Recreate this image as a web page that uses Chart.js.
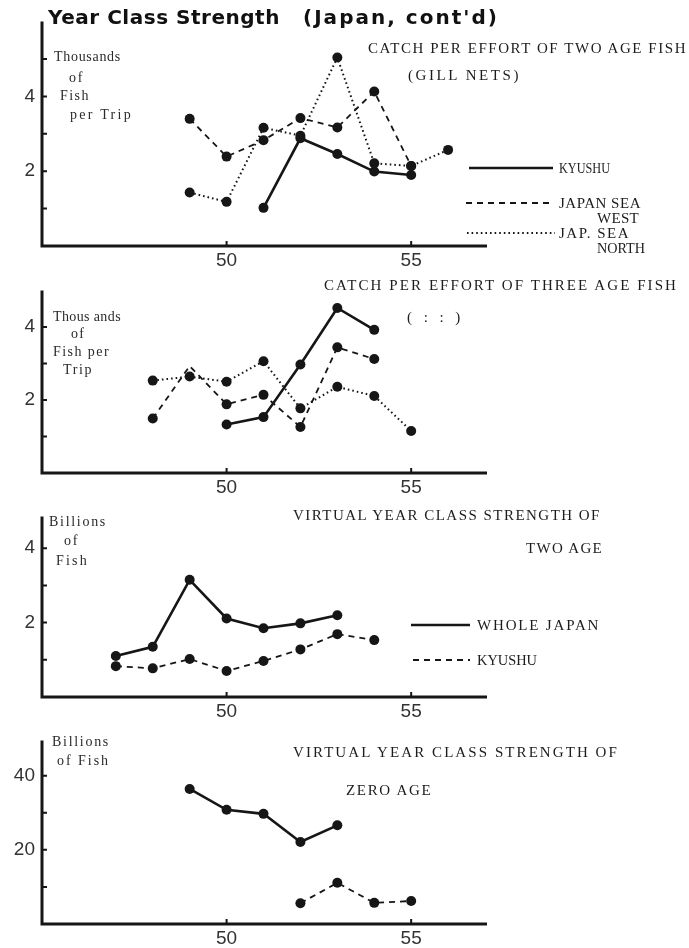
<!DOCTYPE html>
<html>
<head>
<meta charset="utf-8">
<script src="https://cdn.jsdelivr.net/npm/chart.js@4.4.1/dist/chart.umd.min.js"></script>
<style>
  html, body { margin: 0; padding: 0; background: #fff; }
  #page { position: relative; width: 689px; height: 948px; overflow: hidden; background: #fff; }
  #page canvas { position: absolute; left: 0; }
  .lbl { position: absolute; white-space: nowrap; color: #1c1c1c; line-height: 1;
         font-family: 'Liberation Serif', 'DejaVu Serif', serif; font-size: 15px;
         transform: translateY(-50%); transform-origin: 0 50%; }
  .title { font-family: 'DejaVu Sans', sans-serif; font-weight: bold; font-size: 20px; color: #111; }
  .unit { font-size: 14px; color: #2a2a2a; }
</style>
</head>
<body>
<div id="page">
  <canvas id="c1" width="689" height="272" style="top:0px"></canvas>
  <canvas id="c2" width="689" height="226" style="top:272px"></canvas>
  <canvas id="c3" width="689" height="224" style="top:498px"></canvas>
  <canvas id="c4" width="689" height="226" style="top:722px"></canvas>
</div>
<script>
// x axis (year, 19xx) - shared by all four panels
const yearMin = 45;
const yearMax = 57;
const yearTicks = [50, 55];

// catch per effort of two age fish (gill nets), thousands of fish per trip
const cpe2KyushuYears = [51, 52, 53, 54, 55];
const cpe2Kyushu = [1.02, 2.88, 2.46, 1.99, 1.90];
const cpe2WestYears = [49, 50, 51, 52, 53, 54, 55];
const cpe2West = [3.40, 2.39, 2.83, 3.42, 3.17, 4.13, 2.14];
const cpe2NorthYears = [49, 50, 51, 52, 53, 54, 55, 56];
const cpe2North = [1.43, 1.18, 3.16, 2.95, 5.04, 2.21, 2.14, 2.57];

// catch per effort of three age fish
const cpe3KyushuYears = [50, 51, 52, 53, 54];
const cpe3Kyushu = [1.33, 1.53, 2.97, 4.52, 3.92];
const cpe3WestYears = [48, 49, 50, 51, 52, 53, 54];
const cpe3West = [1.49, 2.93, 1.88, 2.14, 1.26, 3.44, 3.12];
const cpe3WestDots = [5, 0, 5, 5, 5, 5, 5];
const cpe3NorthYears = [48, 49, 50, 51, 52, 53, 54, 55];
const cpe3North = [2.53, 2.64, 2.50, 3.06, 1.77, 2.36, 2.11, 1.15];

// virtual year class strength of two age, billions of fish
const ycs2JapanYears = [47, 48, 49, 50, 51, 52, 53];
const ycs2Japan = [1.10, 1.35, 3.15, 2.11, 1.85, 1.98, 2.20];
const ycs2KyushuYears = [47, 48, 49, 50, 51, 52, 53, 54];
const ycs2Kyushu = [0.83, 0.77, 1.02, 0.70, 0.97, 1.28, 1.69, 1.53];

// virtual year class strength of zero age, billions of fish
const ycs0JapanYears = [49, 50, 51, 52, 53];
const ycs0Japan = [36.4, 30.8, 29.7, 22.1, 26.6];
const ycs0KyushuYears = [52, 53, 54, 55];
const ycs0Kyushu = [5.6, 11.1, 5.7, 6.2];

// y axis tick marks and which of them get a number
const yTicksCpe2 = [1, 2, 3, 4, 5];
const yTicksCpe3 = [1, 2, 3, 4];
const yTicksYcs2 = [1, 2, 3, 4];
const yTicksYcs0 = [10, 20, 30, 40];
const yLabels = [2, 4];
const yLabelsYcs0 = [20, 40];

const INK = '#161616';
const STYLE = {
  solid:  { borderWidth: 2.6, borderDash: [] },
  dashed: { borderWidth: 1.8, borderDash: [6, 5] },
  dotted: { borderWidth: 2.0, borderDash: [1.6, 3] }
};

function zip(xs, ys) {
  return xs.map((x, i) => ({ x: x, y: ys[i] }));
}

function series(xs, ys, kind, radius) {
  return Object.assign({
    data: zip(xs, ys),
    borderColor: INK,
    backgroundColor: INK,
    pointBackgroundColor: INK,
    pointBorderWidth: 0,
    pointRadius: radius || 5,
    tension: 0,
    fill: false
  }, STYLE[kind]);
}

// axis lines + short inward tick marks, and the line samples of the keys
const axesPlugin = {
  id: 'axes',
  beforeDatasetsDraw(chart) {
    const a = chart.chartArea, ctx = chart.ctx;
    const xs = chart.scales.x, ys = chart.scales.y;
    ctx.save();
    ctx.strokeStyle = INK;
    ctx.lineWidth = 3;
    ctx.beginPath();
    ctx.moveTo(a.left, a.top);
    ctx.lineTo(a.left, a.bottom);
    ctx.lineTo(a.right + 2, a.bottom);
    ctx.stroke();
    ctx.lineWidth = 2;
    ctx.beginPath();
    ys.ticks.forEach(t => {
      const y = ys.getPixelForValue(t.value);
      ctx.moveTo(a.left, y);
      ctx.lineTo(a.left + 5, y);
    });
    xs.ticks.forEach(t => {
      const x = xs.getPixelForValue(t.value);
      ctx.moveTo(x, a.bottom);
      ctx.lineTo(x, a.bottom - 5);
    });
    ctx.stroke();
    ctx.restore();
  },
  afterDraw(chart, args, opts) {
    const ctx = chart.ctx;
    (opts.keys || []).forEach(k => {
      ctx.save();
      ctx.strokeStyle = INK;
      ctx.lineWidth = STYLE[k.kind].borderWidth;
      ctx.setLineDash(STYLE[k.kind].borderDash);
      ctx.beginPath();
      ctx.moveTo(k.x1, k.y);
      ctx.lineTo(k.x2, k.y);
      ctx.stroke();
      ctx.restore();
    });
  }
};

const tickFont = { family: "'Liberation Sans Narrow', 'Liberation Sans', sans-serif", size: 19 };

function makeChart(id, datasets, cfg) {
  const canvas = document.getElementById(id);
  const h = canvas.height;
  return new Chart(canvas, {
    type: 'line',
    data: { datasets: datasets },
    options: {
      responsive: false,
      animation: false,
      devicePixelRatio: 1,
      layout: { padding: { top: cfg.top, right: 204, left: 0, bottom: 0 } },
      plugins: {
        legend: { display: false },
        tooltip: { enabled: false },
        axes: { keys: cfg.keys || [] }
      },
      scales: {
        x: {
          type: 'linear',
          min: yearMin,
          max: yearMax,
          grid: { display: false, drawTicks: false, tickLength: 0 },
          border: { display: false },
          afterBuildTicks: s => { s.ticks = yearTicks.map(v => ({ value: v })); },
          afterFit: s => { s.height = h - cfg.bottom; },
          ticks: { autoSkip: false, maxRotation: 0, padding: 3, color: '#333', font: tickFont,
                   callback: v => String(v) }
        },
        y: {
          type: 'linear',
          min: 0,
          max: cfg.yMax,
          grid: { display: false, drawTicks: false, tickLength: 0 },
          border: { display: false },
          afterBuildTicks: s => { s.ticks = cfg.yTicks.map(v => ({ value: v })); },
          afterFit: s => { s.width = 42; },
          ticks: { autoSkip: false, padding: 7, color: '#333', font: tickFont,
                   callback: v => cfg.yLabels.includes(v) ? String(v) : '' }
        }
      }
    },
    plugins: [axesPlugin]
  });
}

makeChart('c1', [
  series(cpe2NorthYears, cpe2North, 'dotted'),
  series(cpe2WestYears, cpe2West, 'dashed'),
  series(cpe2KyushuYears, cpe2Kyushu, 'solid')
], {
  top: 21.6, bottom: 246, yMax: 6, yTicks: yTicksCpe2, yLabels: yLabels,
  keys: [
    { x1: 469, x2: 553, y: 168, kind: 'solid' },
    { x1: 466, x2: 553, y: 203, kind: 'dashed' },
    { x1: 467, x2: 555, y: 233, kind: 'dotted' }
  ]
});

makeChart('c2', [
  series(cpe3NorthYears, cpe3North, 'dotted'),
  Object.assign(series(cpe3WestYears, cpe3West, 'dashed'), { pointRadius: cpe3WestDots }),
  series(cpe3KyushuYears, cpe3Kyushu, 'solid')
], { top: 13.5, bottom: 201, yMax: 5, yTicks: yTicksCpe3, yLabels: yLabels });

makeChart('c3', [
  series(ycs2KyushuYears, ycs2Kyushu, 'dashed'),
  series(ycs2JapanYears, ycs2Japan, 'solid')
], {
  top: 18.6, bottom: 199, yMax: 4.85, yTicks: yTicksYcs2, yLabels: yLabels,
  keys: [
    { x1: 411, x2: 470, y: 127, kind: 'solid' },
    { x1: 413, x2: 470, y: 162, kind: 'dashed' }
  ]
});

makeChart('c4', [
  series(ycs0KyushuYears, ycs0Kyushu, 'dashed'),
  series(ycs0JapanYears, ycs0Japan, 'solid')
], { top: 17.6, bottom: 202, yMax: 49.5, yTicks: yTicksYcs0, yLabels: yLabelsYcs0 });

// text: [string, left, middle y, width, class]
const texts = [
  ['Year Class Strength', 48, 17, 232, 'title'],
  ["(Japan, cont'd)", 303, 17, 196, 'title'],

  ['CATCH PER EFFORT OF TWO AGE FISH', 368, 48, 319, ''],
  ['(GILL NETS)', 408, 75, 113, ''],
  ['Thousands', 54, 57, 67, 'unit'],
  ['of', 69, 78, 15, 'unit'],
  ['Fish', 60, 96, 30, 'unit'],
  ['per Trip', 70, 115, 63, 'unit'],
  ['KYUSHU', 559, 168, 51, ''],
  ['JAPAN SEA', 559, 203, 82, ''],
  ['WEST', 597, 218, 42, ''],
  ['JAP. SEA', 559, 233, 71, ''],
  ['NORTH', 597, 248, 48, ''],

  ['CATCH PER EFFORT OF THREE AGE FISH', 324, 285, 354, ''],
  ['(  :  :  )', 407, 317, 69, ''],
  ['Thous ands', 53, 317, 68, 'unit'],
  ['of', 71, 334, 14, 'unit'],
  ['Fish per', 53, 352, 57, 'unit'],
  ['Trip', 63, 370, 30, 'unit'],

  ['VIRTUAL YEAR CLASS STRENGTH OF', 293, 515, 308, ''],
  ['TWO AGE', 526, 548, 77, ''],
  ['Billions', 49, 522, 58, 'unit'],
  ['of', 64, 541, 15, 'unit'],
  ['Fish', 56, 561, 33, 'unit'],
  ['WHOLE  JAPAN', 477, 625, 125, ''],
  ['KYUSHU', 477, 660, 60, ''],

  ['VIRTUAL YEAR CLASS STRENGTH OF', 293, 752, 326, ''],
  ['ZERO  AGE', 346, 790, 88, ''],
  ['Billions', 52, 742, 58, 'unit'],
  ['of Fish', 57, 761, 53, 'unit']
];

const page = document.getElementById('page');
texts.forEach(([s, x, y, w, cls]) => {
  const el = document.createElement('div');
  el.className = 'lbl ' + cls;
  el.textContent = s;
  el.style.left = x + 'px';
  el.style.top = y + 'px';
  page.appendChild(el);
  const natural = el.getBoundingClientRect().width;
  if (natural > w) {
    // too wide: squeeze the run horizontally
    el.style.transform = 'translateY(-50%) scaleX(' + (w / natural).toFixed(3) + ')';
  } else {
    // spread the letters to the wanted run length
    el.style.letterSpacing = ((w - natural) / s.length).toFixed(2) + 'px';
  }
});
</script>
</body>
</html>
